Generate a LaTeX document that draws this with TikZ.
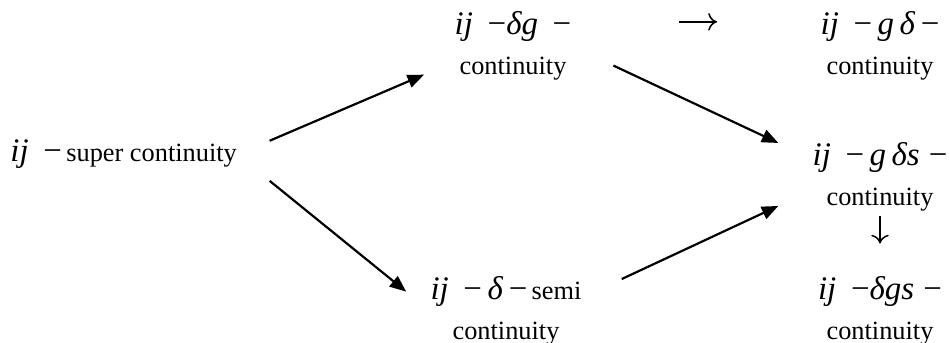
\documentclass[tikz,border=0pt]{standalone}
\usepackage{fontspec}
\setmainfont{Liberation Serif}
\usetikzlibrary{arrows.meta,positioning}
\newcommand\mi[1]{\textit{#1}}
\newcommand\mln[1]{{\fontsize{15}{17}\selectfont #1}}

\begin{document}
\begin{tikzpicture}[x=0.016cm, y=-0.016cm,
    term/.style={align=center, font=\fontsize{12}{18}\selectfont, inner sep=0pt},
    arr/.style={-{Triangle[length=7.5pt,width=6pt]}, line width=1pt},
    glyph/.style={-{To[length=4pt,width=8pt]}, line width=0.7pt}
]
\useasboundingbox (0,0) rectangle (950,343);
\node[term, anchor=base west] (sup) at (10,162) {\mln{\mi{ij}\;\,−}\,super continuity};
\node[term] (dg) at (513,46) {\mln{\mi{ij}\;\,−\mi{δg}\;\,−}\\continuity};
\node[term] (gd) at (880,46) {\mln{\mi{ij}\;\,−\,\mi{g\,δ}\,−}\\continuity};
\node[term] (gds) at (880,177) {\mln{\mi{ij}\;\,−\,\mi{g\,δs}\;−}\\continuity};
\node[term] (dgs) at (880,311) {\mln{\mi{ij}\;\,−\mi{δgs}\;−}\\continuity};
\node[term] (dsemi) at (506,311) {\mln{\mi{ij}\;\,−\,\mi{δ}\,−}\,semi\\continuity};

\draw[arr, shorten <=16pt, shorten >=15pt] (sup.east) -- (dg.195);
\draw[arr, shorten <=19pt, shorten >=14pt] (sup.east) -- (dsemi.west);
\draw[arr, shorten <=21pt, shorten >=17pt] (dg.east) -- (gds.165);
\draw[arr, shorten <=20pt, shorten >=17pt] (dsemi.10) -- (gds.191);
\draw[glyph, shorten <=49pt, shorten >=47pt] ([yshift=11pt]dg.east) -- ([yshift=11pt]gd.west);
\draw[glyph, shorten <=2pt, shorten >=15pt] (gds.south) -- (dgs.north);
\end{tikzpicture}
\end{document}
